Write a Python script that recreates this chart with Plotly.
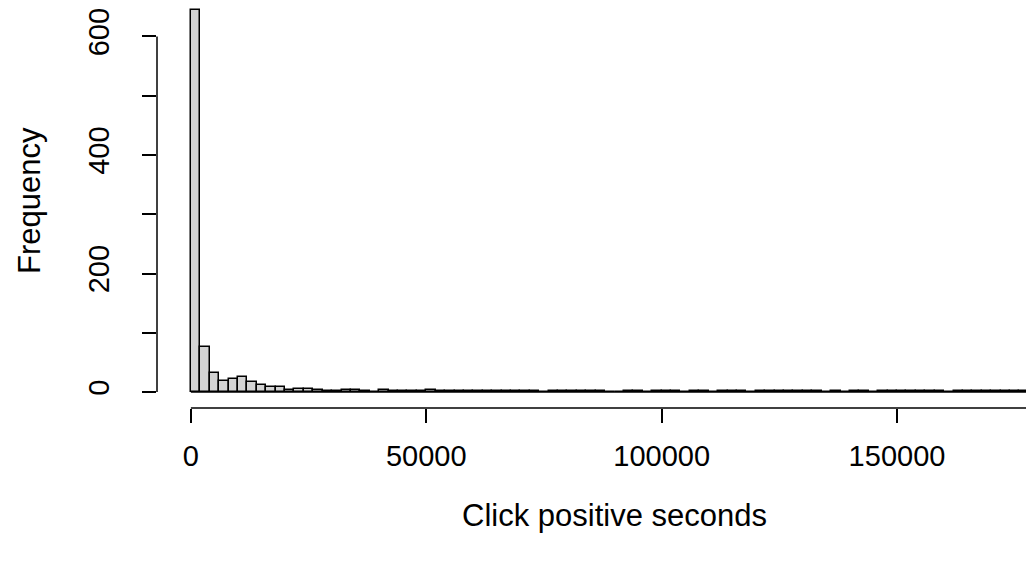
import plotly.graph_objects as go

# Histogram of click positive seconds, bins of 2000 starting at 0
bin_start = 0
bin_width = 2000
counts = [645, 76, 33, 19, 22, 25, 17, 12, 9, 8,
          4, 6, 5, 3, 2, 1, 3, 3, 2, 0,
          3, 2, 2, 2, 2, 3, 1, 1, 2, 1,
          1, 1, 1, 1, 1, 1, 1, 0, 1, 2,
          1, 1, 1, 1, 0, 0, 1, 1, 0, 2,
          2, 1, 0, 1, 1, 0, 1, 1, 1, 0,
          1, 1, 1, 1, 1, 1, 1, 0, 1, 0,
          1, 1, 0, 1, 1, 1, 1, 1, 1, 1,
          0, 1, 1, 1, 1, 1, 1, 1, 1, 1]
x_ticks = [0, 50000, 100000, 150000]
x_tick_labels = ["0", "50000", "100000", "150000"]
y_ticks = [0, 100, 200, 300, 400, 500, 600]
y_tick_labels = ["0", "", "200", "", "400", "", "600"]
x_title = "Click positive seconds"
y_title = "Frequency"

centers = [bin_start + bin_width * (i + 0.5) for i in range(len(counts))]
x_end = bin_start + bin_width * len(counts)

FONT = "Liberation Sans, Arial, sans-serif"
FS_TICK = 29
FS_TITLE = 31

fig = go.Figure()
fig.add_trace(go.Bar(
    x=centers, y=counts, width=[bin_width] * len(counts),
    marker=dict(color="#D3D3D3", line=dict(color="black", width=1.5)),
    hoverinfo="x+y",
))

# R-style axis ranges (4% padding on the left / bottom)
xpad = (x_end - bin_start) * 0.04
ymax = max(counts)
ypad = ymax * 0.04

# page body has an 8px margin; figure sized to fit the window
fig.update_layout(
    width=1026, height=556,
    margin=dict(l=149, r=0, t=0, b=156, autoexpand=False),
    paper_bgcolor="white", plot_bgcolor="white",
    showlegend=False, bargap=0,
    font=dict(family=FONT, size=FS_TICK, color="black"),
    xaxis=dict(
        range=[bin_start - xpad, 179100], automargin=False,
        tickmode="array", tickvals=x_ticks, ticktext=x_tick_labels,
        ticks="outside", ticklen=14, tickwidth=1.5, tickcolor="black",
        showgrid=False, zeroline=False, showline=False,
        tickfont=dict(family=FONT, size=FS_TICK, color="black"),
        ticklabelstandoff=8, ticklabeloverflow="allow",
    ),
    yaxis=dict(
        range=[-26.9, 648], automargin=False,
        tickmode="array", tickvals=y_ticks, ticktext=y_tick_labels,
        ticks="outside", ticklen=14, tickwidth=1.5, tickcolor="black",
        showgrid=False, zeroline=False, showline=False,
        tickangle=-90,
        tickfont=dict(family=FONT, size=FS_TICK, color="black"),
        ticklabelstandoff=21, ticklabeloverflow="allow",
    ),
    shapes=[
        # baseline of histogram (zero-height bins)
        dict(type="line", xref="x", yref="y", x0=bin_start, x1=x_end, y0=0, y1=0,
             line=dict(color="black", width=1.5)),
        # R-style y axis line
        dict(type="line", xref="paper", yref="y", x0=0, x1=0,
             y0=y_ticks[0], y1=y_ticks[-1], line=dict(color="black", width=1.5)),
        # R-style x axis line
        dict(type="line", xref="x", yref="paper", x0=x_ticks[0], x1=200000,
             y0=0, y1=0, line=dict(color="black", width=1.5)),
    ],
    annotations=[
        dict(text=x_title, xref="x", yref="paper", x=(bin_start - xpad + x_end + xpad) / 2,
             y=0, yshift=-107, showarrow=False, xanchor="center", yanchor="middle",
             font=dict(family=FONT, size=FS_TITLE, color="black")),
        dict(text=y_title, xref="paper", yref="y", x=0, xshift=-127,
             y=(ymax + ypad - ypad) / 2, showarrow=False, textangle=-90,
             xanchor="center", yanchor="middle",
             font=dict(family=FONT, size=FS_TITLE, color="black")),
    ],
)

fig.write_html("out.html")
